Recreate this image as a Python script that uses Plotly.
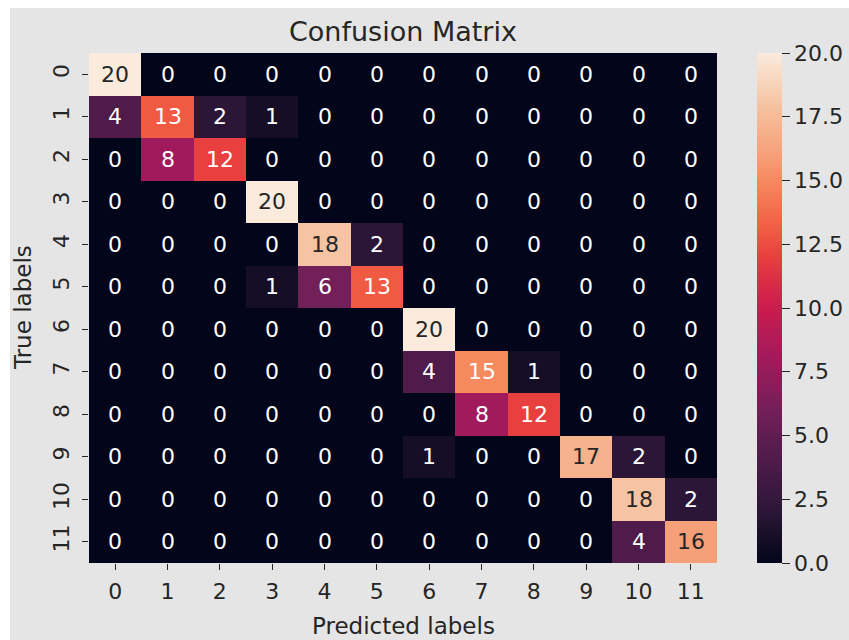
import plotly.graph_objects as go

labels = [str(i) for i in range(12)]
matrix = [
    [20, 0, 0, 0, 0, 0, 0, 0, 0, 0, 0, 0],
    [4, 13, 2, 1, 0, 0, 0, 0, 0, 0, 0, 0],
    [0, 8, 12, 0, 0, 0, 0, 0, 0, 0, 0, 0],
    [0, 0, 0, 20, 0, 0, 0, 0, 0, 0, 0, 0],
    [0, 0, 0, 0, 18, 2, 0, 0, 0, 0, 0, 0],
    [0, 0, 0, 1, 6, 13, 0, 0, 0, 0, 0, 0],
    [0, 0, 0, 0, 0, 0, 20, 0, 0, 0, 0, 0],
    [0, 0, 0, 0, 0, 0, 4, 15, 1, 0, 0, 0],
    [0, 0, 0, 0, 0, 0, 0, 8, 12, 0, 0, 0],
    [0, 0, 0, 0, 0, 0, 1, 0, 0, 17, 2, 0],
    [0, 0, 0, 0, 0, 0, 0, 0, 0, 0, 18, 2],
    [0, 0, 0, 0, 0, 0, 0, 0, 0, 0, 4, 16],
]
cbar_ticks = [0.0, 2.5, 5.0, 7.5, 10.0, 12.5, 15.0, 17.5, 20.0]

rocket = [
    [0.0, "#03051a"], [0.05, "#160e27"], [0.1, "#2b1637"], [0.2, "#4e1b4b"],
    [0.3, "#731f58"], [0.4, "#a11a5b"], [0.5, "#cb1b4f"], [0.6, "#e83f3f"],
    [0.65, "#f05a43"], [0.7, "#f3734f"], [0.75, "#f58a5f"], [0.8, "#f6a07a"],
    [0.85, "#f6b28c"], [0.9, "#f6c4a3"], [1.0, "#faebdd"],
]

FONT = "DejaVu Sans"
TXT = "#262626"
BG = "#e5e5e5"

fig = go.Figure(go.Heatmap(
    z=matrix, x=list(range(12)), y=list(range(12)),
    colorscale=rocket, zmin=0, zmax=20,
    colorbar=dict(
        thickness=25, len=1, lenmode="fraction", x=1.0637, xanchor="left",
        y=0.5, yanchor="middle", xpad=0, ypad=0, outlinewidth=0,
        ticks="outside", ticklen=8, tickcolor=TXT,
        tickvals=cbar_ticks, ticktext=[f"{t:.1f}" for t in cbar_ticks],
        tickfont=dict(family=FONT, size=22, color=TXT),
    ),
    hoverongaps=False,
))

anns = []
for i, row in enumerate(matrix):
    for j, v in enumerate(row):
        anns.append(dict(
            x=j, y=i, xref="x", yref="y", text=str(v), showarrow=False,
            font=dict(family=FONT, size=22, color=TXT if v >= 16 else "white"),
        ))

anns.append(dict(text="Confusion Matrix", xref="paper", yref="paper", x=0.5,
                 y=(563 - 32) / 510, xanchor="center", yanchor="middle",
                 showarrow=False, font=dict(family=FONT, size=27, color=TXT)))
anns.append(dict(text="Predicted labels", xref="paper", yref="paper", x=0.5,
                 y=(563 - 626) / 510, xanchor="center", yanchor="middle",
                 showarrow=False, font=dict(family=FONT, size=23, color=TXT)))
anns.append(dict(text="True labels", xref="paper", yref="paper",
                 x=(23 - 89) / 628, y=0.5, xanchor="center", yanchor="middle",
                 textangle=-90, showarrow=False,
                 font=dict(family=FONT, size=23, color=TXT)))

fig.update_layout(
    width=849, height=640,
    margin=dict(l=89, r=132, t=53, b=77, autoexpand=False),
    paper_bgcolor="white", plot_bgcolor=BG,
    annotations=anns,
    shapes=[dict(type="rect", xref="paper", yref="paper",
                 x0=(10 - 89) / 628, x1=(860 - 89) / 628,
                 y0=(563 - 650) / 510, y1=(563 - 8) / 510,
                 fillcolor=BG, line=dict(width=0), layer="below")],
    xaxis=dict(tickvals=list(range(12)), ticktext=labels, range=[-0.5, 11.5],
               ticks="outside", ticklen=6, tickcolor=TXT, showgrid=False,
               zeroline=False, showline=False, ticklabelstandoff=3,
               tickfont=dict(family=FONT, size=22, color=TXT)),
    yaxis=dict(tickvals=list(range(12)), ticktext=labels, range=[11.5, -0.5],
               ticks="outside", ticklen=6, tickcolor=TXT, showgrid=False,
               zeroline=False, showline=False, tickangle=-90,
               ticklabelstandoff=4,
               tickfont=dict(family=FONT, size=22, color=TXT)),
)

fig.write_html("out.html")
